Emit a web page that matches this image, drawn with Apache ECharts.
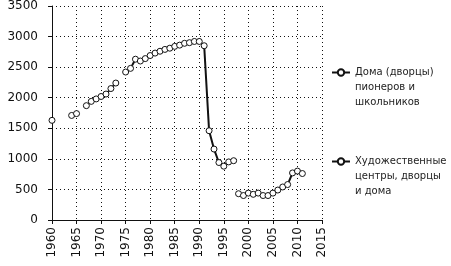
<!DOCTYPE html>
<html>
<head>
<meta charset="utf-8">
<script src="https://cdn.jsdelivr.net/npm/echarts@6/dist/echarts.min.js"></script>
<style>html,body{margin:0;padding:0;background:#fff}#c{width:451px;height:266px}</style>
</head>
<body>
<div id="c"></div>
<script>
const seriesNames = ['Дома (дворцы) пионеров и школьников', 'Художественные центры, дворцы и дома'];
const legendLabels = ['Дома (дворцы)\nпионеров и\nшкольников', 'Художественные\nцентры, дворцы\nи дома'];
const years1 = [1960,1961,1962,1963,1964,1965,1966,1967,1968,1969,1970,1971,1972,1973,1974,1975,1976,1977,1978,1979,1980,1981,1982,1983,1984,1985,1986,1987,1988,1989,1990,1991,1992,1993,1994,1995,1996,1997];
const values1 = [1630,null,null,null,1710,1740,null,1870,1940,1980,2020,2060,2150,2240,null,2420,2480,2630,2600,2640,2690,2730,2760,2790,2810,2840,2860,2890,2900,2920,2920,2850,1460,1160,940,880,950,970];
const years2 = [1998,1999,2000,2001,2002,2003,2004,2005,2006,2007,2008,2009,2010,2011];
const values2 = [430,400,440,420,440,400,400,440,490,540,580,770,800,760];
const yTicks = {min: 0, max: 3500, interval: 500};
const xTicks = {min: 1960, max: 2015, interval: 5};

const pairs = (ys, vs) => ys.map((y, i) => [y, vs[i] === null ? '-' : vs[i]]);
const chart = echarts.init(document.getElementById('c'));
const legendText = {
  fontFamily: 'DejaVu Sans', fontSize: 10, color: '#222', lineHeight: 15
};
// two leading blank lines so the icon sits beside the first text line
const mkLegend = (i, top) => ({
  orient: 'vertical', left: 326, top: top, itemWidth: 18, itemHeight: 8, itemGap: 4,
  data: [seriesNames[i]], formatter: () => '\n\n' + legendLabels[i], textStyle: legendText,
  selectedMode: false
});
const mkSeries = (i, data) => ({
  name: seriesNames[i], type: 'line', data: data, connectNulls: false,
  symbol: 'circle', symbolSize: 6,
  itemStyle: {color: '#fff', borderColor: '#111', borderWidth: 1},
  lineStyle: {color: '#111', width: 2},
  emphasis: {disabled: true}, animation: false
});
chart.setOption({
  animation: false,
  grid: {left: 52, right: 129, top: 6, bottom: 46, containLabel: false},
  legend: [mkLegend(0, 30), mkLegend(1, 119)],
  xAxis: {
    type: 'value', min: xTicks.min, max: xTicks.max, interval: xTicks.interval,
    axisLine: {lineStyle: {color: '#111', width: 1}}, axisTick: {show: true, length: 4, lineStyle: {color: '#111'}},
    axisLabel: {rotate: 90, color: '#111', fontFamily: 'DejaVu Sans', fontSize: 12, margin: 7, formatter: v => String(v)},
    splitLine: {show: true, lineStyle: {color: '#111', type: [1, 3], width: 1}}
  },
  yAxis: {
    type: 'value', min: yTicks.min, max: yTicks.max, interval: yTicks.interval,
    axisLine: {show: true, lineStyle: {color: '#111', width: 1}}, axisTick: {show: true, length: 4, lineStyle: {color: '#111'}},
    axisLabel: {color: '#111', fontFamily: 'DejaVu Sans', fontSize: 12, margin: 14, formatter: v => String(v)},
    splitLine: {show: true, lineStyle: {color: '#111', type: [1, 3], width: 1}}
  },
  series: [mkSeries(0, pairs(years1, values1)), mkSeries(1, pairs(years2, values2))]
});
</script>
</body>
</html>
